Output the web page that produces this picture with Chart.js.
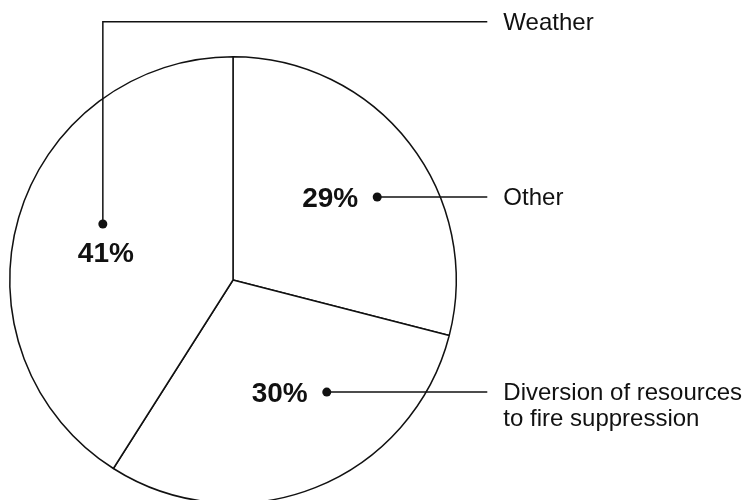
<!DOCTYPE html>
<html>
<head>
<meta charset="utf-8">
<script src="https://cdn.jsdelivr.net/npm/chart.js@4/dist/chart.umd.min.js"></script>
<style>
  body { margin: 0; background: #fff; overflow: hidden; }
  #wrap { width: 742px; height: 520px; overflow: hidden; }
</style>
</head>
<body>
<div id="wrap"><canvas id="graphique" width="742" height="520"></canvas></div>
<script>
// donnees du graphique
const categories = ['Other', 'Diversion of resources\nto fire suppression', 'Weather'];
const percents = [29, 30, 41];

// position des etiquettes, en fraction du rayon (par rapport au centre)
const callouts = [
    { dot: [0.646, -0.372], text: 'left' },
    { dot: [0.42, 0.502], text: 'left' },
    { dot: [-0.583, -0.251], text: 'below', elbowY: -1.157 }
];
const lineEnd = 1.139;   // fin des traits horizontaux
const labelX = 1.211;    // debut du texte a droite

const police = '"Liberation Sans", Arial, Helvetica, sans-serif';

const calloutPlugin = {
    id: 'callouts',
    afterDraw(chart) {
        const ctx = chart.ctx;
        const meta = chart.getDatasetMeta(0);
        const arc0 = meta.data[0];
        const cx = arc0.x, cy = arc0.y, R = arc0.outerRadius;
        ctx.save();
        ctx.strokeStyle = '#111';
        ctx.fillStyle = '#111';
        ctx.lineWidth = 1.5;
        callouts.forEach((c, i) => {
            const dx = cx + c.dot[0] * R;
            const dy = cy + c.dot[1] * R;
            const xEnd = cx + lineEnd * R;
            let yLine = dy;
            // trait
            ctx.beginPath();
            ctx.moveTo(dx, dy);
            if (c.elbowY !== undefined) {
                yLine = cy + c.elbowY * R;
                ctx.lineTo(dx, yLine);
            }
            ctx.lineTo(xEnd, yLine);
            ctx.stroke();
            // point
            ctx.beginPath();
            ctx.arc(dx, dy, 4.5, 0, Math.PI * 2);
            ctx.fill();
            // pourcentage
            ctx.font = 'bold 28px ' + police;
            ctx.textBaseline = 'alphabetic';
            const pct = percents[i] + '%';
            if (c.text === 'left') {
                ctx.textAlign = 'right';
                ctx.fillText(pct, dx - 19, dy + 10);
            } else {
                ctx.textAlign = 'center';
                ctx.fillText(pct, dx + 3, dy + 38);
            }
            // libelle
            ctx.font = '24px ' + police;
            ctx.textAlign = 'left';
            const lignes = categories[i].split('\n');
            lignes.forEach((l, k) => {
                ctx.fillText(l, cx + labelX * R, yLine + 8 + k * 26);
            });
        });
        ctx.restore();
    }
};

const ctx = document.getElementById('graphique').getContext('2d');
const myChart = new Chart(ctx, {
    type: 'pie',
    data: {
        labels: categories,
        datasets: [{
            data: percents,
            backgroundColor: '#fff',
            borderColor: '#111',
            borderWidth: 1.5
        }]
    },
    options: {
        responsive: false,
        animation: false,
        layout: { padding: { left: 9, top: 56, right: 285, bottom: 16 } },
        plugins: {
            legend: { display: false },
            tooltip: { enabled: false }
        }
    },
    plugins: [calloutPlugin]
});
</script>
</body>
</html>
